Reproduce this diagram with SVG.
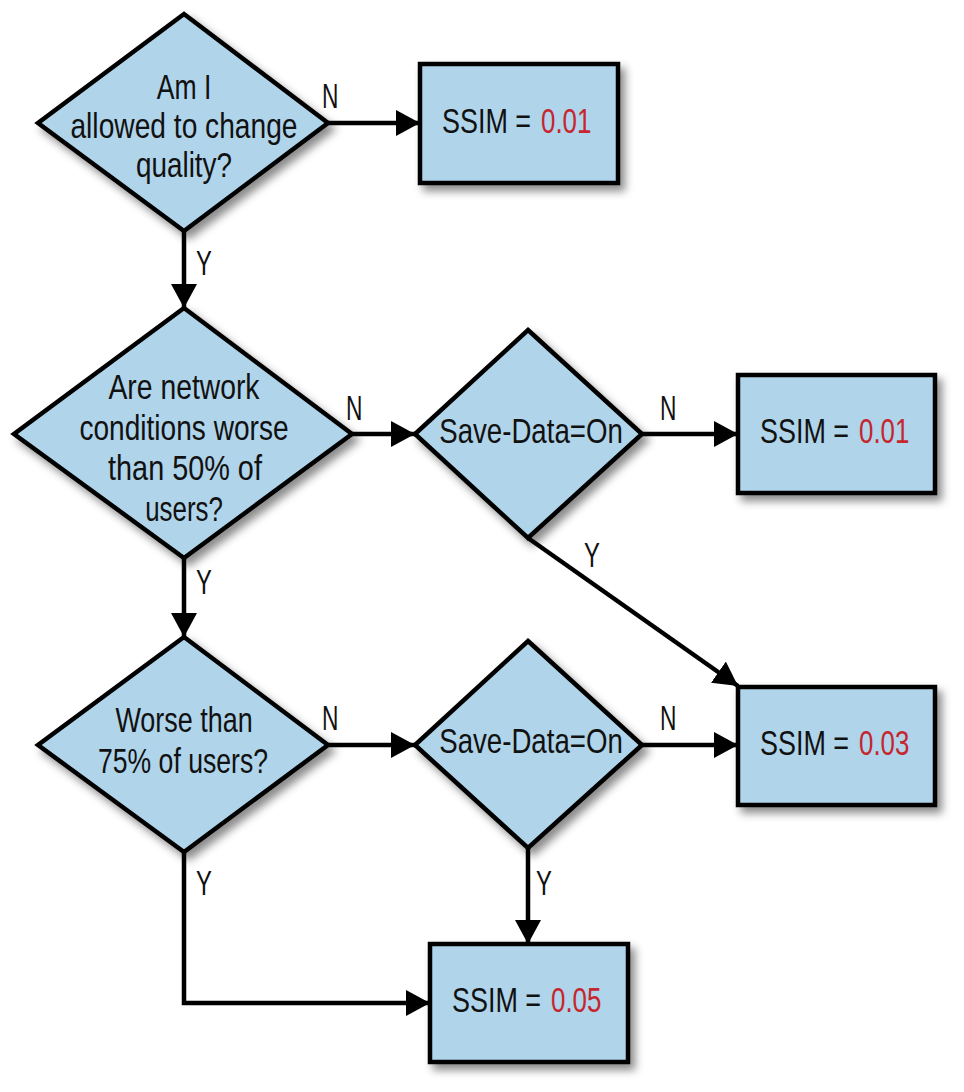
<svg xmlns="http://www.w3.org/2000/svg" width="964" height="1092" viewBox="0 0 964 1092">
<style>
.node{fill:#b0d4ea;stroke:#000;stroke-width:4.5;stroke-linejoin:miter;filter:url(#sh)}
.t{font-family:"Liberation Sans",Arial,sans-serif;font-size:35px;fill:#111;text-anchor:middle}
.s{font-family:"Liberation Sans",Arial,sans-serif;font-size:35px;fill:#111}
.lbl{font-family:"Liberation Sans",Arial,sans-serif;font-size:35px;fill:#111}
.red{fill:#c6262e}
.edge{fill:none;stroke:#000;stroke-width:4.5}
</style>
<defs>
<filter id="sh" x="-10%" y="-10%" width="130%" height="130%">
<feDropShadow dx="5" dy="6" stdDeviation="4" flood-color="#000" flood-opacity="0.45"/>
</filter>
<marker id="ah" viewBox="0 0 24 26" refX="24" refY="13" markerWidth="24" markerHeight="26" markerUnits="userSpaceOnUse" orient="auto">
<path d="M0,0 L24,13 L0,26 Z" fill="#000"/>
</marker>
</defs>
<rect width="964" height="1092" fill="#fff"/>

<g id="connectors">
<path class="edge" d="M184,231 L184,308" marker-end="url(#ah)"/>
<path class="edge" d="M328,123 L420,123" marker-end="url(#ah)"/>
<path class="edge" d="M184,558 L184,637" marker-end="url(#ah)"/>
<path class="edge" d="M352,434 L415,434" marker-end="url(#ah)"/>
<path class="edge" d="M642,434 L738,434" marker-end="url(#ah)"/>
<path class="edge" d="M528,538 L738,686" marker-end="url(#ah)"/>
<path class="edge" d="M328,745 L415,745" marker-end="url(#ah)"/>
<path class="edge" d="M642,745 L738,745" marker-end="url(#ah)"/>
<path class="edge" d="M528,848 L528,944" marker-end="url(#ah)"/>
<path class="edge" d="M184,852 L184,1003 L430,1003" marker-end="url(#ah)"/>
<text class="lbl" transform="translate(322,108) scale(0.65,1)">N</text>
<text class="lbl" transform="translate(196,275) scale(0.68,1)">Y</text>
<text class="lbl" transform="translate(346,420) scale(0.65,1)">N</text>
<text class="lbl" transform="translate(196,594) scale(0.68,1)">Y</text>
<text class="lbl" transform="translate(660,420) scale(0.65,1)">N</text>
<text class="lbl" transform="translate(584,567) scale(0.68,1)">Y</text>
<text class="lbl" transform="translate(322,730) scale(0.65,1)">N</text>
<text class="lbl" transform="translate(660,730) scale(0.65,1)">N</text>
<text class="lbl" transform="translate(196,895) scale(0.68,1)">Y</text>
<text class="lbl" transform="translate(536,895) scale(0.68,1)">Y</text>
</g>

<g id="q1">
<polygon class="node" points="184,14 328,123 184,231 38,123"/>
<text class="t" transform="translate(184,99) scale(0.76,1)">Am I</text>
<text class="t" transform="translate(184,138) scale(0.805,1)">allowed to change</text>
<text class="t" transform="translate(184,177) scale(0.796,1)">quality?</text>
</g>

<g id="r1">
<rect class="node" x="420" y="64" width="198" height="119"/>
<text class="s" transform="translate(442,133) scale(0.77,1)">SSIM =</text>
<text class="s red" transform="translate(541,133) scale(0.74,1)">0.01</text>
</g>

<g id="q2">
<polygon class="node" points="184,308 352,434 184,558 14,434"/>
<text class="t" transform="translate(184,399) scale(0.809,1)">Are network</text>
<text class="t" transform="translate(184,440) scale(0.802,1)">conditions worse</text>
<text class="t" transform="translate(185,480) scale(0.824,1)">than 50% of</text>
<text class="t" transform="translate(184,521) scale(0.74,1)">users?</text>
</g>

<g id="sd1">
<polygon class="node" points="528,330 642,434 528,538 415,434"/>
<text class="t" transform="translate(531,443) scale(0.79,1)">Save-Data=On</text>
</g>

<g id="r2">
<rect class="node" x="738" y="375" width="197" height="118"/>
<text class="s" transform="translate(760,443) scale(0.77,1)">SSIM =</text>
<text class="s red" transform="translate(859,443) scale(0.74,1)">0.01</text>
</g>

<g id="q3">
<polygon class="node" points="184,637 328,745 184,852 38,745"/>
<text class="t" transform="translate(184,732) scale(0.77,1)">Worse than</text>
<text class="t" transform="translate(183,773) scale(0.76,1)">75% of users?</text>
</g>

<g id="sd2">
<polygon class="node" points="528,641 642,745 528,848 415,745"/>
<text class="t" transform="translate(531,753) scale(0.79,1)">Save-Data=On</text>
</g>

<g id="r3">
<rect class="node" x="738" y="687" width="197" height="118"/>
<text class="s" transform="translate(760,755) scale(0.77,1)">SSIM =</text>
<text class="s red" transform="translate(859,755) scale(0.74,1)">0.03</text>
</g>

<g id="r4">
<rect class="node" x="430" y="944" width="198" height="118"/>
<text class="s" transform="translate(452,1012) scale(0.77,1)">SSIM =</text>
<text class="s red" transform="translate(551,1012) scale(0.74,1)">0.05</text>
</g>
</svg>
